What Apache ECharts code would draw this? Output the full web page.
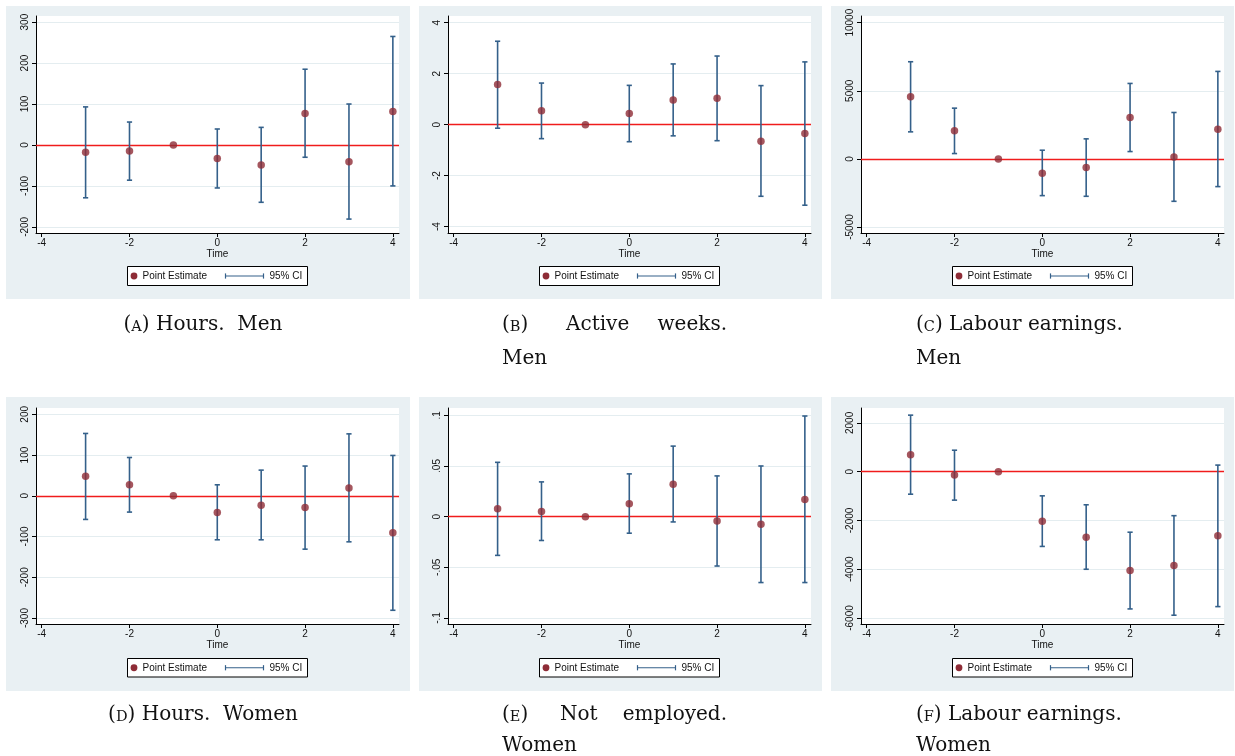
<!DOCTYPE html>
<html><head><meta charset="utf-8">
<script src="https://cdn.jsdelivr.net/npm/echarts@6/dist/echarts.min.js"></script>
<style>html,body{margin:0;padding:0;background:#fff}#c{width:1235px;height:756px}</style>
</head><body><div id="c"></div>
<script>
// ---------- data ----------
const time = [-3, -2, -1, 0, 1, 2, 3, 4];
const xTicks = [-4, -2, 0, 2, 4];

const hoursMenEst = [-18, -15, 0, -33, -49, 77, -41, 82];
const hoursMenLo  = [-129, -86, null, -105, -140, -30, -181, -100];
const hoursMenHi  = [93, 56, null, 39, 43, 185, 100, 265];

const weeksMenEst = [1.57, 0.54, 0, 0.44, 0.97, 1.03, -0.65, -0.35];
const weeksMenLo  = [-0.14, -0.55, null, -0.67, -0.44, -0.63, -2.81, -3.16];
const weeksMenHi  = [3.27, 1.63, null, 1.54, 2.38, 2.69, 1.53, 2.46];

const earnMenEst = [4559, 2059, 0, -1054, -637, 3039, 147, 2181];
const earnMenLo  = [1985, 392, null, -2696, -2745, 539, -3113, -2034];
const earnMenHi  = [7132, 3725, null, 637, 1471, 5539, 3407, 6422];

const hoursWomenEst = [48, 27, 0, -41, -23, -29, 19, -91];
const hoursWomenLo  = [-58, -40, null, -108, -108, -131, -113, -281];
const hoursWomenHi  = [153, 94, null, 27, 63, 73, 152, 99];

const notEmpWomenEst = [0.0078, 0.0052, 0, 0.0127, 0.032, -0.0042, -0.0075, 0.017];
const notEmpWomenLo  = [-0.0382, -0.0235, null, -0.0163, -0.0052, -0.0487, -0.065, -0.065];
const notEmpWomenHi  = [0.0536, 0.0343, null, 0.0422, 0.0696, 0.0402, 0.05, 0.0993];

const earnWomenEst = [692, -136, 0, -2034, -2685, -4054, -3851, -2631];
const earnWomenLo  = [-922, -1166, null, -3064, -4000, -5627, -5885, -5532];
const earnWomenHi  = [2319, 881, null, -990, -1356, -2481, -1803, 271];

const yTicksA = [-200, -100, 0, 100, 200, 300];
const yLabelsA = ['-200', '-100', '0', '100', '200', '300'];
const yTicksB = [-4, -2, 0, 2, 4];
const yLabelsB = ['-4', '-2', '0', '2', '4'];
const yTicksC = [-5000, 0, 5000, 10000];
const yLabelsC = ['-5000', '0', '5000', '10000'];
const yTicksD = [-300, -200, -100, 0, 100, 200];
const yLabelsD = ['-300', '-200', '-100', '0', '100', '200'];
const yTicksE = [-0.1, -0.05, 0, 0.05, 0.1];
const yLabelsE = ['-.1', '-.05', '0', '.05', '.1'];
const yTicksF = [-6000, -4000, -2000, 0, 2000];
const yLabelsF = ['-6000', '-4000', '-2000', '0', '2000'];

const xName = 'Time';
const legendPoint = 'Point Estimate';
const legendCI = '95% CI';

// ---------- panel definitions ----------
const panels = [
  {est: hoursMenEst, lo: hoursMenLo, hi: hoursMenHi, yt: yTicksA, yl: yLabelsA},
  {est: weeksMenEst, lo: weeksMenLo, hi: weeksMenHi, yt: yTicksB, yl: yLabelsB},
  {est: earnMenEst, lo: earnMenLo, hi: earnMenHi, yt: yTicksC, yl: yLabelsC},
  {est: hoursWomenEst, lo: hoursWomenLo, hi: hoursWomenHi, yt: yTicksD, yl: yLabelsD},
  {est: notEmpWomenEst, lo: notEmpWomenLo, hi: notEmpWomenHi, yt: yTicksE, yl: yLabelsE},
  {est: earnWomenEst, lo: earnWomenLo, hi: earnWomenHi, yt: yTicksF, yl: yLabelsF}
];

// layout (pixels) and axis extents
const layout = [
  {bgX: 6,   bgY: 6,   bgW: 404, bgH: 293, left: 36,  right: 836, top: 16,  bottom: 523, yMin: -215,   yMax: 315,   legTop: 266},
  {bgX: 419, bgY: 6,   bgW: 403, bgH: 293, left: 448, right: 424, top: 16,  bottom: 523, yMin: -4.25,  yMax: 4.26,  legTop: 266},
  {bgX: 831, bgY: 6,   bgW: 403, bgH: 293, left: 861, right: 11,  top: 16,  bottom: 523, yMin: -5440,  yMax: 10490, legTop: 266},
  {bgX: 6,   bgY: 397, bgW: 404, bgH: 294, left: 36,  right: 836, top: 408, bottom: 132, yMin: -314.7, yMax: 215.5, legTop: 658},
  {bgX: 419, bgY: 397, bgW: 403, bgH: 294, left: 448, right: 424, top: 408, bottom: 132, yMin: -0.1059, yMax: 0.1072, legTop: 658},
  {bgX: 831, bgY: 397, bgW: 403, bgH: 294, left: 861, right: 11,  top: 408, bottom: 132, yMin: -6245,  yMax: 2612,  legTop: 658}
];
const X_MIN = -4.13, X_MAX = 4.14;

const BG = '#e9f0f3';
const GRIDLINE = '#e4edf0';
const PT_COLOR = '#8e2c36';
const CI_COLOR = '#34608a';
const ZERO_COLOR = '#f01c1c';
const SANS = 'Liberation Sans, Arial, sans-serif';
const SERIF = 'DejaVu Serif, serif';

const grids = [], xAxes = [], yAxes = [], series = [], graphics = [];

panels.forEach((p, i) => {
  const L = layout[i];
  graphics.push({type: 'rect', z: -10, shape: {x: L.bgX, y: L.bgY, width: L.bgW, height: L.bgH}, style: {fill: BG}});
  grids.push({left: L.left, right: L.right, top: L.top, bottom: L.bottom, show: true,
    backgroundColor: '#ffffff', borderWidth: 0, containLabel: false, outerBoundsMode: 'none'});
  xAxes.push({
    type: 'value', gridIndex: i, min: X_MIN, max: X_MAX,
    name: xName, nameLocation: 'middle', nameGap: 16,
    nameTextStyle: {fontFamily: SANS, fontSize: 10, color: '#111'},
    axisLine: {onZero: false, lineStyle: {color: '#000', width: 1}},
    axisTick: {show: true, length: 4, customValues: xTicks, lineStyle: {color: '#000'}},
    axisLabel: {customValues: xTicks, margin: 5, fontFamily: SANS, fontSize: 10, color: '#111'},
    splitLine: {show: false}
  });
  const yt = p.yt, yl = p.yl;
  yAxes.push({
    type: 'value', gridIndex: i, min: L.yMin, max: L.yMax,
    axisLine: {show: true, onZero: false, lineStyle: {color: '#000', width: 1}},
    axisTick: {show: true, length: 4, customValues: yt, lineStyle: {color: '#000'}},
    axisLabel: {customValues: yt, rotate: 90, margin: 6, fontFamily: SANS, fontSize: 10, color: '#111',
      formatter: v => { const k = yt.findIndex(t => Math.abs(t - v) < 1e-9); return k >= 0 ? yl[k] : ''; }},
    splitLine: {show: true, lineStyle: {color: GRIDLINE, width: 1}}
  });
  const ciData = [];
  time.forEach((t, k) => { if (p.lo[k] !== null) ciData.push([t, p.lo[k], p.hi[k]]); });
  series.push({
    type: 'custom', name: legendCI, xAxisIndex: i, yAxisIndex: i, z: 3, silent: true,
    encode: {x: 0, y: [1, 2]}, data: ciData,
    renderItem: (params, api) => {
      const x = api.value(0), lo = api.value(1), hi = api.value(2);
      const a = api.coord([x, hi]), b = api.coord([x, lo]);
      const w = 2.6;
      const st = {stroke: CI_COLOR, lineWidth: 1.6};
      return {type: 'group', children: [
        {type: 'line', shape: {x1: a[0], y1: a[1], x2: b[0], y2: b[1]}, style: st},
        {type: 'line', shape: {x1: a[0] - w, y1: a[1], x2: a[0] + w, y2: a[1]}, style: st},
        {type: 'line', shape: {x1: b[0] - w, y1: b[1], x2: b[0] + w, y2: b[1]}, style: st}
      ]};
    },
    markLine: {silent: true, symbol: 'none', label: {show: false}, z: 2,
      lineStyle: {color: ZERO_COLOR, width: 1.3, type: 'solid'}, data: [{yAxis: 0}], animation: false}
  });
  series.push({
    type: 'scatter', name: legendPoint, xAxisIndex: i, yAxisIndex: i, z: 4, silent: true,
    symbol: 'circle', symbolSize: 7.5, itemStyle: {color: PT_COLOR},
    data: time.map((t, k) => [t, p.est[k]])
  });
  // legend box (drawn)
  const lx = L.left + 91.5, ly = L.legTop + 0.5, lh = (i < 3 ? 19 : 18.5);
  const cy = ly + lh / 2;
  graphics.push({type: 'group', z: 50, children: [
    {type: 'rect', shape: {x: lx, y: ly, width: 180, height: lh}, style: {fill: '#fff', stroke: '#000', lineWidth: 1}},
    {type: 'circle', shape: {cx: lx + 6.5, cy: cy, r: 3.4}, style: {fill: PT_COLOR}},
    {type: 'text', x: lx + 15, y: cy, style: {text: legendPoint, fontFamily: SANS, fontSize: 10, fill: '#111', verticalAlign: 'middle', align: 'left'}},
    {type: 'line', shape: {x1: lx + 98, y1: cy, x2: lx + 136, y2: cy}, style: {stroke: CI_COLOR, lineWidth: 1.2}},
    {type: 'line', shape: {x1: lx + 98, y1: cy - 2.6, x2: lx + 98, y2: cy + 2.6}, style: {stroke: CI_COLOR, lineWidth: 1.2}},
    {type: 'line', shape: {x1: lx + 136, y1: cy - 2.6, x2: lx + 136, y2: cy + 2.6}, style: {stroke: CI_COLOR, lineWidth: 1.2}},
    {type: 'text', x: lx + 142, y: cy, style: {text: legendCI, fontFamily: SANS, fontSize: 10, fill: '#111', verticalAlign: 'middle', align: 'left'}}
  ]});
});

// captions
const capRich = {sc: {fontSize: 14.5, fontFamily: SERIF, fill: '#111', verticalAlign: 'bottom'}};
function cap(x, y, text, align) {
  return {type: 'text', x: x, y: y, z: 50, style: {text: text, rich: capRich, fontFamily: SERIF, fontSize: 20,
    fill: '#111', align: align || 'left', verticalAlign: 'middle'}};
}
graphics.push(
  cap(203, 325, '({sc|A}) Hours.  Men', 'center'),
  cap(502, 325, '({sc|B})'), cap(566, 325, 'Active'), cap(727, 325, 'weeks.', 'right'), cap(502, 359, 'Men'),
  cap(916, 325, '({sc|C}) Labour earnings.'), cap(916, 359, 'Men'),
  cap(203, 715, '({sc|D}) Hours.  Women', 'center'),
  cap(502, 715, '({sc|E})'), cap(560, 715, 'Not'), cap(727, 715, 'employed.', 'right'), cap(502, 746, 'Women'),
  cap(916, 715, '({sc|F}) Labour earnings.'), cap(916, 746, 'Women')
);

const chart = echarts.init(document.getElementById('c'), null, {renderer: 'canvas'});
chart.setOption({
  animation: false,
  backgroundColor: '#ffffff',
  grid: grids, xAxis: xAxes, yAxis: yAxes, series: series,
  graphic: {elements: graphics}
});
</script></body></html>
